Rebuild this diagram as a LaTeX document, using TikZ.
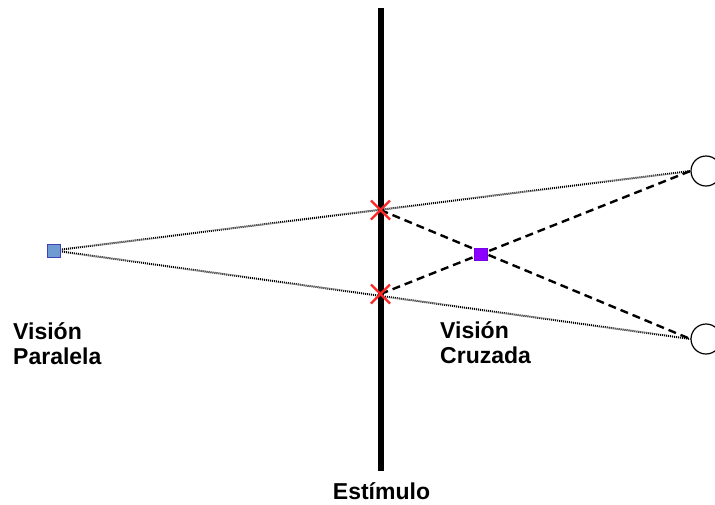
\documentclass[tikz,border=0pt]{standalone}
\usepackage{fontspec}
\setmainfont{Liberation Sans}
\begin{document}
\begin{tikzpicture}[x=1pt,y=-1pt,
  lbl/.style={font=\bfseries\fontsize{23}{26}\selectfont, inner sep=0pt, anchor=base west},
  eye/.style={circle, draw=black, line width=1.2pt, minimum size=30pt, inner sep=0pt},
  dotline/.style={line width=2pt, dash pattern=on 1pt off 1pt},
  dashline/.style={line width=2.4pt, dash pattern=on 8pt off 5pt},
  cross/.style={draw=red!85!white, line width=2.4pt}
]
\useasboundingbox (0,0) rectangle (715,504);
% stimulus plane
\coordinate (stop) at (380.5,8);
\coordinate (sbot) at (380.5,470.5);
\draw[line width=6pt, black] (stop) -- (sbot);
% eyes
\node[eye] (eyeT) at (706,171) {};
\node[eye] (eyeB) at (706,339) {};
% points
\coordinate (xT) at (380.5,210);
\coordinate (xB) at (380.5,294);
% dotted lines (parallel viewing)
\node[minimum size=13pt, inner sep=0pt] (pp) at (54,250.5) {};
\draw[dotline] (pp.center) -- (eyeT.west);
\draw[dotline] (pp.center) -- (eyeB.west);
% dashed lines (crossed viewing)
\draw[dashline] (xT) -- (eyeB.west);
\draw[dashline] (xB) -- (eyeT.west);
% squares
\node[draw=blue!50!gray, fill={rgb,255:red,110;green,155;blue,210}, line width=0.6pt, minimum size=13pt, inner sep=0pt] (blue) at (54,250.5) {};
\node[draw={rgb,255:red,120;green,0;blue,230}, fill={rgb,255:red,140;green,0;blue,255}, line width=0.6pt, minimum size=12.5pt, inner sep=0pt] (purple) at (481,254.5) {};
% red crosses
\draw[cross] ([shift={(-9.5,-9.5)}]xT) -- ([shift={(9.5,9.5)}]xT);
\draw[cross] ([shift={(-9.5,9.5)}]xT) -- ([shift={(9.5,-9.5)}]xT);
\draw[cross] ([shift={(-9.5,-9.5)}]xB) -- ([shift={(9.5,9.5)}]xB);
\draw[cross] ([shift={(-9.5,9.5)}]xB) -- ([shift={(9.5,-9.5)}]xB);
% labels
\node[lbl] (vp1) at (13,339.5) {Visión};
\node[lbl] (vp2) at (13,364.5) {Paralela};
\node[lbl] (vc1) at (440,338.5) {Visión};
\node[lbl] (vc2) at (440,363.5) {Cruzada};
\node[lbl, anchor=base] (est) at (381.5,499) {Estímulo};
\end{tikzpicture}
\end{document}
